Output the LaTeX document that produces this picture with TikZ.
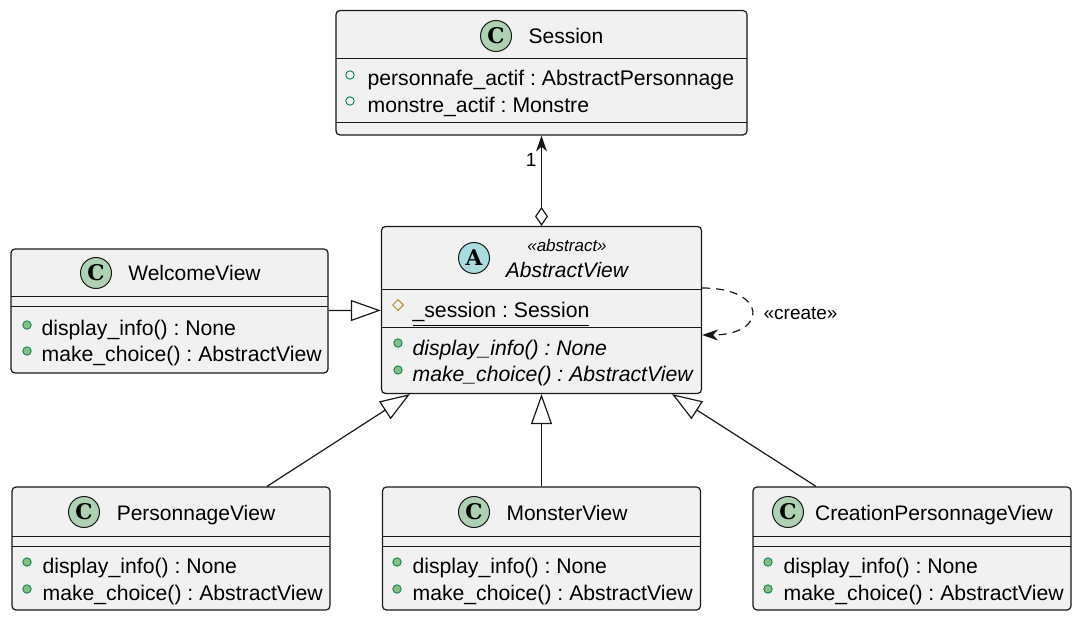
\documentclass[tikz,border=0pt]{standalone}
\usepackage{fontspec}
\setmainfont{Liberation Sans}
\newfontfamily\markfont{DejaVu Serif}
\usetikzlibrary{arrows.meta,shapes.geometric}
\definecolor{boxfill}{HTML}{F1F1F1}
\definecolor{boxline}{HTML}{181818}
\definecolor{classgreen}{HTML}{ADD1B2}
\definecolor{abstractblue}{HTML}{A9DCDF}
\definecolor{publine}{HTML}{038048}
\definecolor{pubfill}{HTML}{84BE84}
\definecolor{protgold}{HTML}{B38D22}
\frenchspacing

\begin{document}
\begin{tikzpicture}[x=0.5pt, y=-0.5pt, line width=0.6pt, font=\fontsize{10.6}{12}\selectfont,
  classbox/.style={draw=boxline, fill=boxfill, rounded corners=2pt, inner sep=0pt},
  sepline/.style={draw=boxline, line width=0.5pt},
  classmark/.style={circle, draw=boxline, fill=classgreen, line width=0.5pt, minimum size=15.5pt, inner sep=0pt, font=\markfont\bfseries\fontsize{10.8}{11}\selectfont},
  classname/.style={anchor=base, inner sep=0pt, font=\fontsize{10.5}{12}\selectfont},
  member/.style={anchor=base west, inner sep=0pt},
  methodmark/.style={circle, draw=publine, fill=pubfill, line width=0.4pt, minimum size=4.2pt, inner sep=0pt},
  fieldmark/.style={circle, draw=publine, line width=0.45pt, minimum size=4.2pt, inner sep=0pt},
  protmark/.style={diamond, draw=protgold, line width=0.5pt, minimum size=5.5pt, inner sep=0pt},
  inherit/.style={draw=boxline, -{Triangle[open, length=15pt, width=10.5pt]}},
  aggreg/.style={draw=boxline, {Diamond[open, length=9.5pt, width=6.5pt]}-{Stealth[length=8pt, width=5.5pt, inset=2.5pt]}},
  depend/.style={draw=boxline, dash pattern=on 4pt off 3pt, -{Stealth[length=8pt, width=5.5pt, inset=2.5pt]}},
  lbl/.style={inner sep=0pt, font=\fontsize{9.5}{11}\selectfont}]
  \useasboundingbox (0,0) rectangle (1080,619);

  % Session
  \node[classbox, minimum width=205.5pt, minimum height=62.25pt] (session) at (541.5,72.75) {};
  \node[classmark] (sessionmark) at (496,36) {C};
  \node[classname] (sessionname) at (566,44) {Session};
  \draw[sepline] (336,59) -- (747,59);
  \node[fieldmark] (sessionf1) at (350,75) {};
  \node[member] (sessiona1) at (367,86) {personnafe\_actif : AbstractPersonnage};
  \node[fieldmark] (sessionf2) at (350,101) {};
  \node[member] (sessiona2) at (367,113) {monstre\_actif : Monstre};
  \draw[sepline] (336,123) -- (747,123);

  % AbstractView
  \node[classbox, minimum width=160pt, minimum height=83.5pt] (abstract) at (541.5,310) {};
  \node[classmark, fill=abstractblue] (abstractmark) at (474,258) {A};
  \node[classname, font=\itshape\fontsize{8.5}{10}\selectfont] (abstractstereo) at (567,252) {«abstract»};
  \node[classname, font=\itshape\fontsize{10.5}{12}\selectfont] (abstractname) at (567,278) {AbstractView};
  \draw[sepline] (381.5,290) -- (701.5,290);
  \node[protmark] (abstractf1) at (398,305) {};
  \node[member] (abstracta1) at (412,318) {\underline{\_session : Session}};
  \draw[sepline] (381.5,328) -- (701.5,328);
  \node[methodmark] (abstractm1) at (398,343) {};
  \node[member, font=\itshape\fontsize{10.6}{12}\selectfont] (abstractop1) at (412,356) {display\_info() : None};
  \node[methodmark] (abstractm2) at (398,370) {};
  \node[member, font=\itshape\fontsize{10.6}{12}\selectfont] (abstractop2) at (412,382) {make\_choice() : AbstractView};

  % WelcomeView
  \node[classbox, minimum width=158.5pt, minimum height=62pt] (welcome) at (169.5,311) {};
  \node[classmark] (welcomemark) at (96,273) {C};
  \node[classname] (welcomename) at (194.5,281) {WelcomeView};
  \draw[sepline] (11,297) -- (328,297);
  \draw[sepline] (11,307) -- (328,307);
  \node[methodmark] (welcomem1) at (27,325) {};
  \node[member] (welcomeop1) at (41,336) {display\_info() : None};
  \node[methodmark] (welcomem2) at (27,351) {};
  \node[member] (welcomeop2) at (41,362) {make\_choice() : AbstractView};

  % PersonnageView
  \node[classbox, minimum width=159pt, minimum height=61.5pt] (personnage) at (171,548.5) {};
  \node[classmark] (personnagemark) at (84,512) {C};
  \node[classname] (personnagename) at (196,520) {PersonnageView};
  \draw[sepline] (12,536) -- (330,536);
  \draw[sepline] (12,546) -- (330,546);
  \node[methodmark] (personnagem1) at (27,562) {};
  \node[member] (personnageop1) at (42,573) {display\_info() : None};
  \node[methodmark] (personnagem2) at (27,589) {};
  \node[member] (personnageop2) at (42,600) {make\_choice() : AbstractView};

  % MonsterView
  \node[classbox, minimum width=159pt, minimum height=61.5pt] (monster) at (541.5,548.5) {};
  \node[classmark] (monstermark) at (474,512) {C};
  \node[classname] (monstername) at (567,520) {MonsterView};
  \draw[sepline] (382,536) -- (701,536);
  \draw[sepline] (382,546) -- (701,546);
  \node[methodmark] (monsterm1) at (397,562) {};
  \node[member] (monsterop1) at (412,573) {display\_info() : None};
  \node[methodmark] (monsterm2) at (397,589) {};
  \node[member] (monsterop2) at (412,600) {make\_choice() : AbstractView};

  % CreationPersonnageView
  \node[classbox, minimum width=159pt, minimum height=61.5pt] (creation) at (912,548.5) {};
  \node[classmark] (creationmark) at (788,512) {C};
  \node[classname] (creationname) at (934,520) {CreationPersonnageView};
  \draw[sepline] (753,536) -- (1071,536);
  \draw[sepline] (753,546) -- (1071,546);
  \node[methodmark] (creationm1) at (768,562) {};
  \node[member] (creationop1) at (783,573) {display\_info() : None};
  \node[methodmark] (creationm2) at (768,589) {};
  \node[member] (creationop2) at (783,600) {make\_choice() : AbstractView};

  % relations
  \draw[aggreg] (abstract.north) -- (session.south);
  \node[lbl, anchor=east] (one) at (537,160) {1};
  \draw[inherit] (welcome) -- (abstract);
  \draw[inherit] ([xshift=48pt]personnage.north) -- ([xshift=-65.75pt]abstract.south);
  \draw[inherit] (monster.north) -- (abstract.south);
  \draw[inherit] ([xshift=-48pt]creation.north) -- ([xshift=65.25pt]abstract.south);
  \draw[depend] ([yshift=11pt]abstract.east) .. controls +(33pt,0) and +(33pt,0) .. ([yshift=-12.5pt]abstract.east);
  \node[lbl, anchor=west] (create) at (763,313) {«create»};
\end{tikzpicture}
\end{document}
